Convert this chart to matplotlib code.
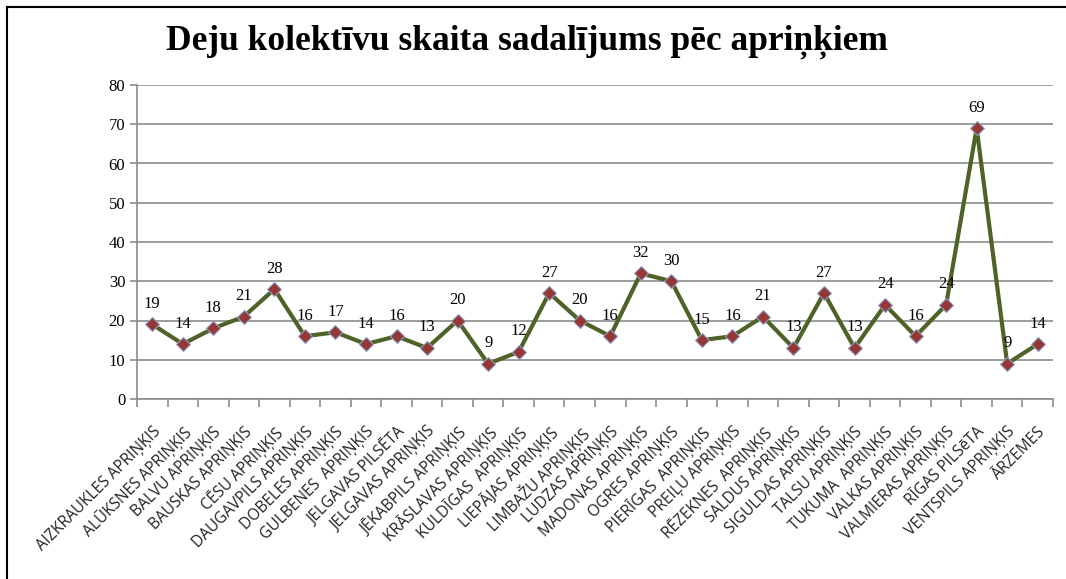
import numpy as np
import matplotlib.pyplot as plt
from matplotlib.lines import Line2D

categories = [
    "AIZKRAUKLES APRIŅĶIS", "ALŪKSNES APRIŅĶIS", "BALVU APRIŅĶIS",
    "BAUSKAS APRIŅĶIS", "CĒSU APRIŅĶIS", "DAUGAVPILS APRIŅĶIS",
    "DOBELES APRIŅĶIS", "GULBENES  APRIŅĶIS", "JELGAVAS PILSĒTA",
    "JELGAVAS APRIŅĶIS", "JĒKABPILS APRIŅĶIS", "KRĀSLAVAS APRIŅĶIS",
    "KULDĪGAS  APRIŅĶIS", "LIEPĀJAS APRIŅĶIS", "LIMBAŽU APRIŅĶIS",
    "LUDZAS APRIŅĶIS", "MADONAS APRIŅĶIS", "OGRES APRIŅĶIS",
    "PIERĪGAS  APRIŅĶIS", "PREIĻU APRIŅĶIS", "RĒZEKNES  APRIŅĶIS",
    "SALDUS APRIŅĶIS", "SIGULDAS APRIŅĶIS", "TALSU APRIŅĶIS",
    "TUKUMA  APRIŅĶIS", "VALKAS APRIŅĶIS", "VALMIERAS APRIŅĶIS",
    "RĪGAS PILSēTA", "VENTSPILS APRIŅĶIS", "ĀRZEMES",
]
values = [19, 14, 18, 21, 28, 16, 17, 14, 16, 13, 20, 9, 12, 27, 20,
          16, 32, 30, 15, 16, 21, 13, 27, 13, 24, 16, 24, 69, 9, 14]

title = "Deju kolektīvu skaita sadalījums pēc apriņķiem"

fig = plt.figure(figsize=(10.66, 5.79), dpi=100)
ax = fig.add_axes([137 / 1066, 1 - 399 / 579, (1053 - 137) / 1066, (399 - 85) / 579])

x = np.arange(len(values))
ax.plot(x, values, color="#4F6228", lw=3, zorder=3,
        marker="D", ms=7, mfc="#953735", mec="#8EA0C8", mew=0.8)

for xi, v in zip(x, values):
    ax.annotate(str(v), (xi, v), xytext=(0, 9), textcoords="offset points",
                ha="center", va="bottom", fontsize=12, family="Liberation Serif")

ax.set_xlim(-0.5, len(values) - 0.5)
ax.set_ylim(0, 80)
ax.set_yticks(range(0, 81, 10))
ax.yaxis.grid(True, color="#8C8C8C", lw=1.2)
ax.set_axisbelow(True)

# ticks between categories, labels centered on the points
ax.set_xticks(np.arange(-0.5, len(values), 1.0))
ax.set_xticklabels([])
ax.set_xticks(x, minor=True)
ax.set_xticklabels(categories, minor=True, rotation=45, ha="right",
                   rotation_mode="anchor", fontsize=11.2, family="Open Sans",
                   color="#222222")
ax.tick_params(axis="x", which="minor", length=0, pad=18)
ax.tick_params(axis="x", which="major", length=6, color="#8C8C8C", width=1.2)
ax.tick_params(axis="y", length=5, color="#8C8C8C", width=1.2, labelsize=12)
for lab in ax.get_yticklabels():
    lab.set_family("Liberation Serif")

for side in ["top", "right"]:
    ax.spines[side].set_visible(False)
for side in ["left", "bottom"]:
    ax.spines[side].set_color("#8C8C8C")
    ax.spines[side].set_linewidth(1.2)

fig.text(527 / 1066, 1 - 42 / 579, title, ha="center", va="center",
         fontsize=25.5, fontweight="bold", family="Liberation Serif")

# outer chart frame (top and left edges visible)
fig.add_artist(Line2D([7 / 1066, 7 / 1066], [0, 1 - 7 / 579], color="black", lw=1.5))
fig.add_artist(Line2D([7 / 1066, 1], [1 - 7 / 579, 1 - 7 / 579], color="black", lw=1.5))

fig.savefig("out.png", dpi=100)
